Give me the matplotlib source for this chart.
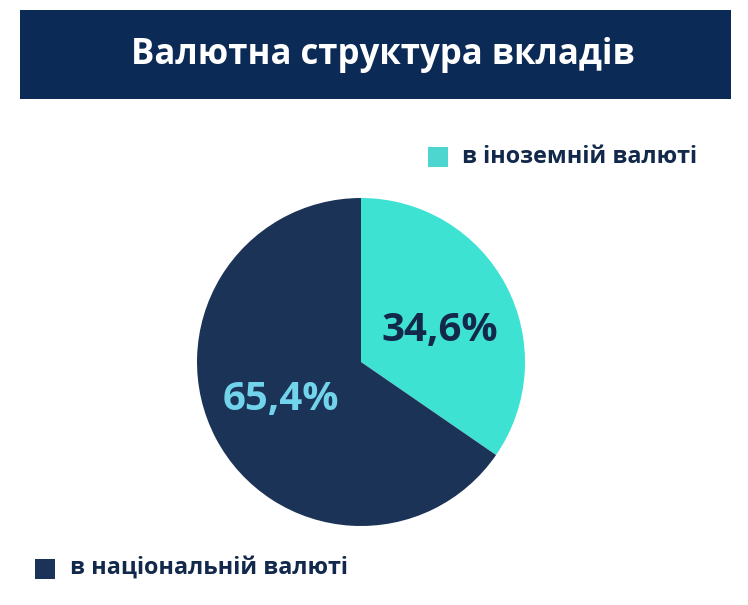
import matplotlib
matplotlib.use('Agg')
import matplotlib.pyplot as plt
from matplotlib.patches import Rectangle

# data
labels = ['в іноземній валюті', 'в національній валюті']
values = [34.6, 65.4]
value_text = ['34,6%', '65,4%']
colors = ['#3de2d3', '#1c3358']
label_colors = ['#13294b', '#72d4ea']
title = 'Валютна структура вкладів'

plt.rcParams['font.family'] = ['Open Sans', 'DejaVu Sans']

W, H = 748, 605
fig = plt.figure(figsize=(W / 100, H / 100), dpi=100)
fig.patch.set_facecolor('white')

# header band
fig.patches.append(Rectangle((20 / W, 1 - 99 / H), 711 / W, 89 / H,
                             transform=fig.transFigure, facecolor='#0c2a56',
                             edgecolor='none', zorder=0))
fig.text(383 / W, 1 - 55 / H, title, color='white', fontsize=25,
         fontweight='bold', ha='center', va='center')

# pie
cx, cy, r = 361, 362, 164
ax = fig.add_axes([(cx - r) / W, (H - cy - r) / H, 2 * r / W, 2 * r / H])
wedges, _ = ax.pie(values, colors=colors, startangle=90, counterclock=False,
                   radius=1.0, wedgeprops=dict(linewidth=0))
ax.set_xlim(-1, 1)
ax.set_ylim(-1, 1)
ax.set_aspect('equal')
ax.axis('off')

# value labels
ax.text(0.48, 0.19, value_text[0], color=label_colors[0], fontsize=29,
        fontweight='bold', ha='center', va='center')
ax.text(-0.49, -0.23, value_text[1], color=label_colors[1], fontsize=29,
        fontweight='bold', ha='center', va='center')

# legend entries
fig.patches.append(Rectangle((428 / W, 1 - 167 / H), 20 / W, 20 / H,
                             transform=fig.transFigure, facecolor='#4dd6d0',
                             edgecolor='none'))
fig.text(462 / W, 1 - 157 / H, labels[0], color='#13294b', fontsize=16.8,
         fontweight='bold', ha='left', va='center')
fig.patches.append(Rectangle((35 / W, 1 - 579 / H), 20 / W, 20 / H,
                             transform=fig.transFigure, facecolor='#1c3358',
                             edgecolor='none'))
fig.text(70 / W, 1 - 568 / H, labels[1], color='#13294b', fontsize=16.8,
         fontweight='bold', ha='left', va='center')

fig.savefig('out.png', dpi=100)
